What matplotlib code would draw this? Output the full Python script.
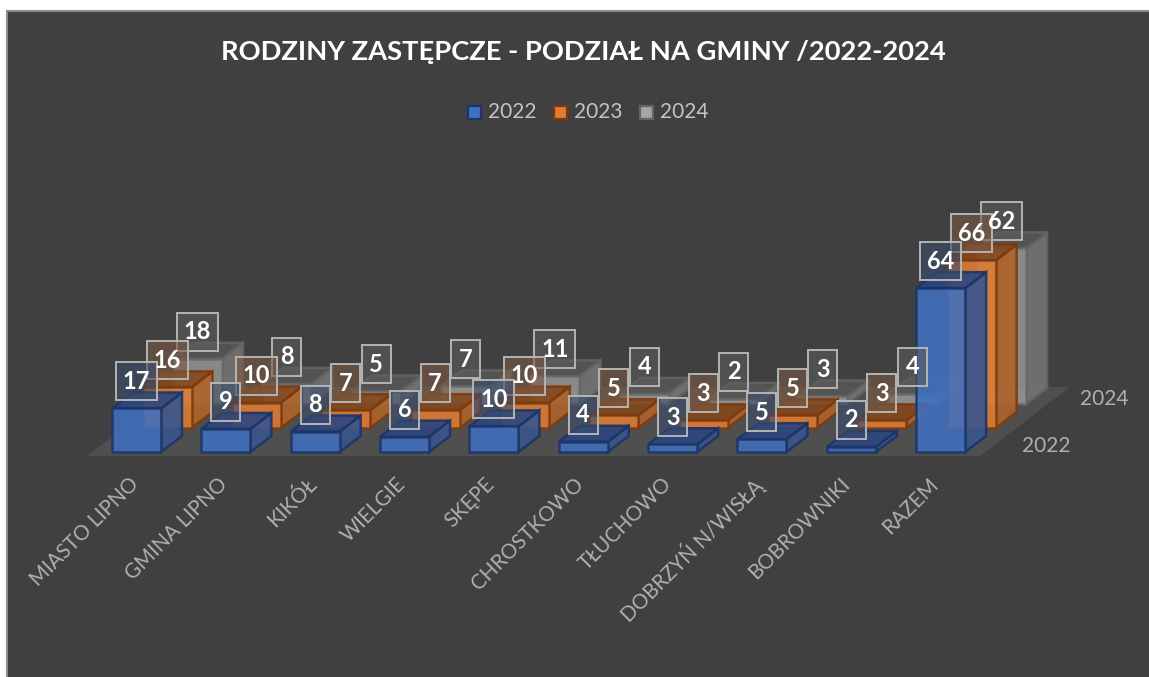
import matplotlib.pyplot as plt
from matplotlib.patches import Polygon, Rectangle

plt.rcParams['font.family'] = ['Lato', 'DejaVu Sans']

categories = ['MIASTO LIPNO', 'GMINA LIPNO', 'KIKÓŁ', 'WIELGIE', 'SKĘPE', 'CHROSTKOWO',
              'TŁUCHOWO', 'DOBRZYŃ N/WISŁĄ', 'BOBROWNIKI', 'RAZEM']
years = ['2022', '2023', '2024']
values_2022 = [17, 9, 8, 6, 10, 4, 3, 5, 2, 64]
values_2023 = [16, 10, 7, 7, 10, 5, 3, 5, 3, 66]
values_2024 = [18, 8, 5, 7, 11, 4, 2, 3, 4, 62]

# Colours: front, side, top, edge, label fill
style_2022 = ('#4070c0', '#38558f', '#2c4680', '#1c3566', '#3b4c6c')
style_2023 = ('#e07c33', '#ae622a', '#84481c', '#7c3a0e', '#7c5a42')
style_2024 = ('#a5a5a5', '#747474', '#565656', '#646464', '#5c5c5c')

# Oblique projection, in picture pixels
first_x = 112
step_x = 89.35
label_step = 88.8
bar_w = 49
base_y = 452
depth_dx = 21
depth_dy = -16
row_dx = 30.5
row_dy = -24
# rows further back come out a little shorter
unit_h = [2.56, 2.54, 2.51]
front_alpha = [0.88, 0.88, 0.72]


def project(cat, row, value):
    """Front left bottom corner and top of a bar"""
    x = first_x + cat * step_x + row * row_dx
    y = base_y + row * row_dy
    return x, y, y - value * unit_h[row]


def draw_bar(ax, cat, row, value, style):
    x, y, top = project(cat, row, value)
    front, side, lid, edge, _ = style
    right = x + bar_w
    ax.add_patch(Polygon([(right, y), (right + depth_dx, y + depth_dy),
                          (right + depth_dx, top + depth_dy), (right, top)],
                         fc=side, ec=edge, lw=1.8, alpha=0.9))
    ax.add_patch(Polygon([(x, top), (right, top), (right + depth_dx, top + depth_dy),
                          (x + depth_dx, top + depth_dy)],
                         fc=lid, ec=edge, lw=1.8, alpha=0.9))
    ax.add_patch(Rectangle((x, top), bar_w, y - top, fc=front, ec=edge, lw=1.8, alpha=front_alpha[row]))


def draw_label(ax, cat, row, value, style):
    x, y, top = project(cat, row, value)
    cx = x + bar_w / 2
    cy = top - 27
    w = 41 if value >= 10 else 29
    ax.add_patch(Rectangle((cx - w / 2, cy - 19), w, 38, fc=style[4], alpha=0.6, ec='none', zorder=5))
    ax.add_patch(Rectangle((cx - w / 2, cy - 19), w, 38, fc='none', ec='#b4b4b4', lw=1.4, zorder=5))
    ax.text(cx, cy, str(value), color='white', fontsize=17, fontweight='bold',
            ha='center', va='center', zorder=6)


fig = plt.figure(figsize=(11.49, 6.77), dpi=100, facecolor='white')
ax = fig.add_axes([0, 0, 1, 1])
ax.set_xlim(0, 1149)
ax.set_ylim(677, 0)
ax.axis('off')

# Chart area and floor
ax.add_patch(Rectangle((6.5, 11), 1150, 680, fc='#404040', ec='#8c8c8c', lw=1.5))
ax.add_patch(Polygon([(87, 456), (980, 456), (1070, 387), (177, 387)], fc='#504f4f', ec='none'))

ax.text(583, 52, 'RODZINY ZASTĘPCZE - PODZIAŁ NA GMINY /2022-2024', color='white', fontsize=19.7,
        fontweight='bold', ha='center', va='center')

# Legend
all_styles = [style_2024, style_2023, style_2022]
all_values = [values_2024, values_2023, values_2022]
legend_x = [468, 554, 640]
for lx, year, style in zip(legend_x, years, [style_2022, style_2023, style_2024]):
    ax.add_patch(Rectangle((lx, 106), 13, 13, fc=style[0], ec=style[3], lw=1.6))
    ax.text(lx + 20, 112, year, color='#c4c4c4', fontsize=15, ha='left', va='center')

# Back row first so the front rows sit on top
for row, vals, style in zip([2, 1, 0], all_values, all_styles):
    for i, v in enumerate(vals):
        draw_bar(ax, i, row, v, style)
for row, vals, style in zip([2, 1, 0], all_values, all_styles):
    for i, v in enumerate(vals):
        draw_label(ax, i, row, v, style)

# Axis labels
for i, name in enumerate(categories):
    ax.text(first_x + i * label_step + 17, 474, name, color='#b0b0b0', fontsize=14.8, rotation=45,
            rotation_mode='anchor', ha='right', va='top')
ax.text(1022, 446, '2022', color='#b0b0b0', fontsize=15, ha='left', va='center')
ax.text(1080, 399, '2024', color='#b0b0b0', fontsize=15, ha='left', va='center')

fig.savefig('out.png', dpi=100, facecolor=fig.get_facecolor())
plt.close(fig)
